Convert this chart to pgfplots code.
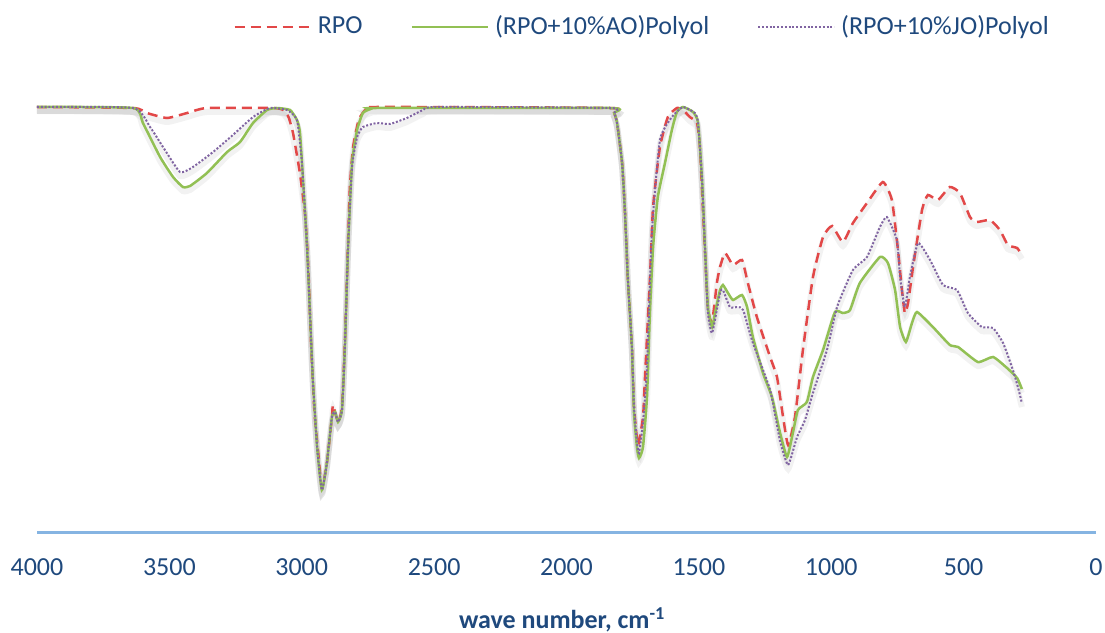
\documentclass[border=0pt]{standalone}
\usepackage{fontspec}
\setmainfont{Carlito}
\usepackage{pgfplots}
\usepackage{pgfplotstable}
\pgfplotsset{compat=1.18}

\definecolor{txtblue}{RGB}{31,73,125}
\definecolor{axblue}{RGB}{133,180,226}
\definecolor{rpored}{RGB}{226,72,72}
\definecolor{aogreen}{RGB}{146,192,84}
\definecolor{jopurple}{RGB}{128,100,162}

% wave number vs. signal (arbitrary units, 0 = axis line)
\pgfplotstableread{
w y
4000 425
3637 424
3585 419
3509 414
3433 419
3358 424
3109 424
3070 422
3050 415
3033 399
3007 359
2988 319
2976 269
2965 190
2952 120
2938 80
2924 44
2905 69
2886 115
2882 127
2863 110
2848 125
2837 190
2825 290
2818 345
2806 385
2785 412
2760 422
2716 425
1836 424
1820 419
1809 409
1790 369
1779 319
1768 252
1753 185
1745 125
1730 87
1711 115
1704 152
1685 252
1673 325
1647 385
1617 415
1583 424
1560 422
1534 415
1507 409
1496 385
1484 319
1466 225
1450 210
1432 249
1420 265
1401 279
1371 267
1337 272
1315 249
1281 215
1231 175
1205 155
1182 115
1163 87
1137 115
1107 182
1069 255
1031 295
997 306
956 290
918 309
865 329
805 350
771 332
748 282
733 242
722 219
710 229
691 265
657 322
635 337
597 332
552 345
514 339
476 315
450 310
400 312
363 302
333 287
298 284
280 277
}\rpo

\pgfplotstableread{
w y
4000 425
3637 424
3600 409
3535 375
3486 355
3449 345
3422 346
3358 359
3282 380
3233 390
3184 409
3131 422
3094 424
3044 422
3018 412
3007 400
2995 352
2980 285
2969 219
2958 152
2942 85
2924 42
2905 69
2886 115
2874 120
2863 110
2848 122
2837 185
2825 285
2810 369
2791 402
2769 419
2740 423
2716 424
1836 424
1820 419
1809 409
1790 369
1779 319
1768 252
1753 185
1745 119
1734 85
1726 74
1711 85
1696 135
1685 219
1673 285
1655 335
1628 369
1602 402
1583 420
1560 425
1522 420
1503 409
1488 352
1477 285
1466 225
1450 205
1439 219
1420 242
1409 247
1390 239
1371 232
1337 237
1318 225
1296 195
1258 159
1224 135
1194 100
1167 75
1145 99
1126 122
1092 130
1069 155
1031 182
986 220
956 219
929 222
892 249
816 275
786 269
759 242
740 205
718 190
695 209
676 220
616 205
552 187
521 185
446 170
389 175
336 164
298 154
280 143
}\ao

\pgfplotstableread{
w y
4000 425
3637 424
3573 405
3524 385
3460 360
3411 365
3335 380
3260 397
3184 415
3120 424
3056 422
3018 412
2999 369
2980 285
2969 219
2958 152
2942 85
2924 42
2905 69
2886 115
2874 120
2863 110
2848 122
2837 185
2825 285
2810 365
2791 395
2769 405
2716 409
2667 408
2603 414
2542 422
2489 425
1836 424
1820 419
1809 409
1790 369
1779 319
1768 252
1753 185
1745 125
1734 90
1726 79
1711 110
1696 165
1677 302
1647 392
1602 415
1560 425
1515 419
1503 409
1488 352
1477 285
1466 220
1450 199
1420 239
1409 242
1383 225
1352 225
1333 222
1296 189
1231 142
1194 92
1163 67
1129 95
1099 112
1069 139
1016 182
978 225
918 262
865 275
816 305
790 315
752 292
740 255
722 225
703 255
672 289
627 272
578 247
525 242
484 219
431 205
389 204
351 189
314 162
295 145
280 129
}\jo

\begin{document}
\begin{tikzpicture}
\begin{axis}[
    scale only axis,
    width=529.5pt, height=223.5pt,
    x dir=reverse,
    xmin=0, xmax=4000, ymin=0, ymax=447,
    xtick={0,500,...,4000},
    ytick=\empty,
    axis y line=none,
    axis x line=bottom,
    x axis line style={-, draw=axblue, line width=1.5pt},
    major tick length=0pt,
    /pgf/number format/assume math mode=true,
    /pgf/number format/1000 sep={},
    xticklabel style={font=\fontsize{13}{15}\selectfont, text=txtblue, yshift=-10pt},
    xlabel={\textbf{wave number, cm\textsuperscript{-1}}},
    xlabel style={font=\fontsize{13}{15}\selectfont, text=txtblue,
        at={(axis description cs:0.496,-0.197)}, anchor=center},
    clip=false,
    legend columns=3,
    legend style={draw=none, fill=none, at={(0.185,1.13)}, anchor=west,
        font=\fontsize{13}{15}\selectfont, text=txtblue,
        inner sep=0pt,
        nodes={inner xsep=3pt, inner ysep=1pt},
        /tikz/every even column/.append style={column sep=21pt}},
    legend image code/.code={\draw[#1] (0pt,0pt) -- (38pt,0pt);},
    every axis plot/.append style={smooth, tension=0.3},
]
% soft shadows
\addplot[forget plot, black, opacity=0.05, line width=3pt, transform canvas={yshift=-2pt}] table[x=w,y=y] {\rpo};
\addplot[forget plot, black, opacity=0.05, line width=3pt, transform canvas={yshift=-2pt}] table[x=w,y=y] {\ao};
\addplot[forget plot, black, opacity=0.05, line width=3pt, transform canvas={yshift=-2pt}] table[x=w,y=y] {\jo};

\addplot[rpored, line width=1.25pt, dash pattern=on 5pt off 3pt] table[x=w,y=y] {\rpo};
\addlegendentry{RPO}
\addplot[aogreen, line width=1.25pt] table[x=w,y=y] {\ao};
\addlegendentry{(RPO+10\%AO)Polyol}
\addplot[jopurple, line width=1pt, dash pattern=on 1pt off 0.9pt] table[x=w,y=y] {\jo};
\addlegendentry{(RPO+10\%JO)Polyol}
\end{axis}
\pgfresetboundingbox
\path ([xshift=-18.5pt,yshift=-50pt]current axis.south west) rectangle ([xshift=4.5pt,yshift=42.5pt]current axis.north east);
\end{tikzpicture}
\end{document}
